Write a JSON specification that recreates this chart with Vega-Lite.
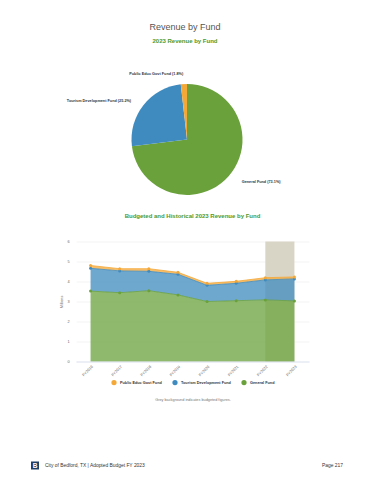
{
  "$schema": "https://vega.github.io/schema/vega-lite/v6.json",
  "padding": {"top": 22.5, "left": 31, "right": 0, "bottom": 0},
  "background": "white",
  "title": {
    "text": "Revenue by Fund",
    "subtitle": "2023 Revenue by Fund",
    "anchor": "middle",
    "dx": -2,
    "font": "Liberation Sans",
    "fontSize": 9,
    "fontWeight": "normal",
    "color": "#555555",
    "subtitleFont": "Liberation Sans",
    "subtitleFontSize": 6,
    "subtitleFontWeight": "bold",
    "subtitleColor": "#4d9a2e",
    "subtitlePadding": 6,
    "offset": 22
  },
  "spacing": 5,
  "resolve": {
    "scale": {"color": "independent", "x": "independent", "y": "independent", "theta": "independent"},
    "legend": {"color": "independent"}
  },
  "vconcat": [
    {
      "width": 222,
      "height": 136,
      "data": {
        "values": [
          {"fund": "General Fund", "share": 73.1, "label": "General Fund (73.1%)"},
          {"fund": "Tourism Development Fund", "share": 25.2, "label": "Tourism Development Fund (25.2%)"},
          {"fund": "Public Educ Govt Fund", "share": 1.8, "label": "Public Educ Govt Fund (1.8%)"}
        ]
      },
      "encoding": {
        "theta": {"field": "share", "type": "quantitative", "stack": true},
        "order": {"field": "share", "sort": "descending"},
        "color": {
          "field": "fund",
          "type": "nominal",
          "scale": {
            "domain": ["Public Educ Govt Fund", "Tourism Development Fund", "General Fund"],
            "range": ["#f4a838", "#3f8bbf", "#6aa13b"]
          },
          "legend": null
        }
      },
      "layer": [
        {"mark": {"type": "arc", "outerRadius": 55.5}},
        {
          "mark": {"type": "text", "radius": 69, "align": "left", "baseline": "middle", "dx": 3, "dy": -3, "fontSize": 3.8, "fontWeight": "bold", "font": "Liberation Sans"},
          "encoding": {
            "text": {"condition": {"test": "datum.fund === 'General Fund'", "field": "label"}, "value": ""},
            "color": {"value": "#333333"}
          }
        },
        {
          "mark": {"type": "text", "radius": 66, "align": "right", "baseline": "middle", "fontSize": 3.8, "fontWeight": "bold", "font": "Liberation Sans"},
          "encoding": {
            "text": {"condition": {"test": "datum.fund === 'Public Educ Govt Fund'", "field": "label"}, "value": ""},
            "color": {"value": "#333333"}
          }
        },
        {
          "mark": {"type": "text", "radius": 66, "align": "right", "baseline": "middle", "dx": -4, "dy": 2, "fontSize": 3.8, "fontWeight": "bold", "font": "Liberation Sans"},
          "encoding": {
            "text": {"condition": {"test": "datum.fund === 'Tourism Development Fund'", "field": "label"}, "value": ""},
            "color": {"value": "#333333"}
          }
        }
      ]
    },
    {
      "width": 233,
      "height": 120,
      "title": {
        "text": "Budgeted and Historical 2023 Revenue by Fund",
        "font": "Liberation Sans",
        "fontSize": 6,
        "fontWeight": "bold",
        "color": "#4d9a2e",
        "offset": 21
      },
      "data": {"name": "rev"},
      "transform": [
        {"stack": "value", "groupby": ["year"], "sort": [{"field": "value", "order": "descending"}], "as": ["v0", "v1"]}
      ],
      "encoding": {
        "x": {
          "field": "year",
          "type": "ordinal",
          "scale": {"type": "point", "padding": 0.5, "domain": ["FY2016", "FY2017", "FY2018", "FY2019", "FY2020", "FY2021", "FY2022", "FY2023"]},
          "axis": {"labelAngle": -45, "labelFontSize": 3.8, "labelColor": "#666666", "labelFont": "Liberation Sans", "ticks": false, "domainColor": "#ccd6eb", "domainWidth": 0.6, "labelPadding": 3, "title": null}
        },
        "y": {
          "field": "v1",
          "type": "quantitative",
          "stack": null,
          "scale": {"domain": [0, 6], "nice": false},
          "axis": {"values": [0, 1, 2, 3, 4, 5, 6], "title": "Millions", "titleFontSize": 3.8, "titleFontWeight": "normal", "titleColor": "#666666", "titleFont": "Liberation Sans", "labelFontSize": 3.8, "labelColor": "#666666", "labelFont": "Liberation Sans", "domain": false, "ticks": false, "labelPadding": 7, "titlePadding": 3, "gridColor": "#e6e6e6", "gridWidth": 0.5}
        },
        "color": {
          "field": "fund",
          "type": "nominal",
          "scale": {
            "domain": ["Public Educ Govt Fund", "Tourism Development Fund", "General Fund"],
            "range": ["#f4a838", "#3f8bbf", "#6aa13b"]
          },
          "legend": {
            "orient": "bottom", "direction": "horizontal",
            "title": "Grey background indicates budgeted figures.",
            "titleOrient": "bottom", "titleAnchor": "middle", "titleAlign": "center",
            "titleFontSize": 3.8, "titleFontWeight": "normal", "titleColor": "#777777", "titleFont": "Liberation Sans", "titlePadding": 10,
            "symbolType": "circle", "symbolSize": 14, "symbolOpacity": 1,
            "labelFontSize": 3.8, "labelFontWeight": "bold", "labelColor": "#333333", "labelFont": "Liberation Sans",
            "columnPadding": 8, "labelOffset": 3, "offset": 2, "padding": 0
          }
        }
      },
      "layer": [
        {
          "data": {"values": [{"start": "FY2022", "end": "FY2023", "top": 6, "bottom": 0}]},
          "transform": [],
          "mark": {"type": "rect", "color": "#d9d5c6"},
          "encoding": {
            "x": {"field": "start", "type": "ordinal", "title": null},
            "x2": {"field": "end"},
            "y": {"field": "top", "type": "quantitative", "title": null},
            "y2": {"field": "bottom"},
            "color": {"value": "#d9d5c6"}
          }
        },
        {
          "mark": {"type": "area", "opacity": 0.75},
          "encoding": {"y2": {"field": "v0"}}
        },
        {
          "mark": {"type": "line", "strokeWidth": 0.8}
        },
        {
          "mark": {"type": "point", "filled": true, "size": 9, "opacity": 1}
        }
      ]
    },
    {
      "width": 267,
      "height": 10,
      "data": {
        "values": [
          {"side": "left", "label": "City of Bedford, TX | Adopted Budget FY 2023"},
          {"side": "right", "label": "Page 217"}
        ]
      },
      "encoding": {
        "x": {"field": "side", "type": "nominal", "scale": {"type": "point", "padding": 0, "domain": ["left", "right"]}, "axis": null}
      },
      "layer": [
        {
          "transform": [{"filter": "datum.side === 'left'"}],
          "mark": {"type": "square", "filled": true, "color": "#1f3f66", "size": 64, "opacity": 1, "xOffset": -41, "yOffset": 54}
        },
        {
          "transform": [{"filter": "datum.side === 'left'"}],
          "mark": {"type": "text", "text": "B", "fontSize": 6.5, "fontWeight": "bold", "color": "#ffffff", "font": "Liberation Sans", "xOffset": -41, "yOffset": 54, "baseline": "middle"}
        },
        {
          "transform": [{"filter": "datum.side === 'left'"}],
          "mark": {"type": "text", "align": "left", "dx": -31, "yOffset": 54, "fontSize": 4.9, "color": "#333333", "font": "Liberation Sans", "baseline": "middle"},
          "encoding": {"text": {"field": "label"}}
        },
        {
          "transform": [{"filter": "datum.side === 'right'"}],
          "mark": {"type": "text", "align": "right", "yOffset": 54, "fontSize": 4.9, "color": "#333333", "font": "Liberation Sans", "baseline": "middle"},
          "encoding": {"text": {"field": "label"}}
        }
      ]
    }
  ],
  "datasets": {
    "rev": [
      {"year": "FY2016", "fund": "General Fund", "value": 3.52},
      {"year": "FY2016", "fund": "Tourism Development Fund", "value": 1.14},
      {"year": "FY2016", "fund": "Public Educ Govt Fund", "value": 0.14},
      {"year": "FY2017", "fund": "General Fund", "value": 3.44},
      {"year": "FY2017", "fund": "Tourism Development Fund", "value": 1.09},
      {"year": "FY2017", "fund": "Public Educ Govt Fund", "value": 0.11},
      {"year": "FY2018", "fund": "General Fund", "value": 3.54},
      {"year": "FY2018", "fund": "Tourism Development Fund", "value": 0.97},
      {"year": "FY2018", "fund": "Public Educ Govt Fund", "value": 0.13},
      {"year": "FY2019", "fund": "General Fund", "value": 3.33},
      {"year": "FY2019", "fund": "Tourism Development Fund", "value": 1.03},
      {"year": "FY2019", "fund": "Public Educ Govt Fund", "value": 0.1},
      {"year": "FY2020", "fund": "General Fund", "value": 3.0},
      {"year": "FY2020", "fund": "Tourism Development Fund", "value": 0.81},
      {"year": "FY2020", "fund": "Public Educ Govt Fund", "value": 0.1},
      {"year": "FY2021", "fund": "General Fund", "value": 3.04},
      {"year": "FY2021", "fund": "Tourism Development Fund", "value": 0.87},
      {"year": "FY2021", "fund": "Public Educ Govt Fund", "value": 0.1},
      {"year": "FY2022", "fund": "General Fund", "value": 3.08},
      {"year": "FY2022", "fund": "Tourism Development Fund", "value": 1.0},
      {"year": "FY2022", "fund": "Public Educ Govt Fund", "value": 0.11},
      {"year": "FY2023", "fund": "General Fund", "value": 3.03},
      {"year": "FY2023", "fund": "Tourism Development Fund", "value": 1.1},
      {"year": "FY2023", "fund": "Public Educ Govt Fund", "value": 0.1}
    ]
  },
  "config": {
    "view": {"stroke": null},
    "font": "Liberation Sans",
    "legend": {"layout": {"bottom": {"anchor": "middle"}}}
  }
}
